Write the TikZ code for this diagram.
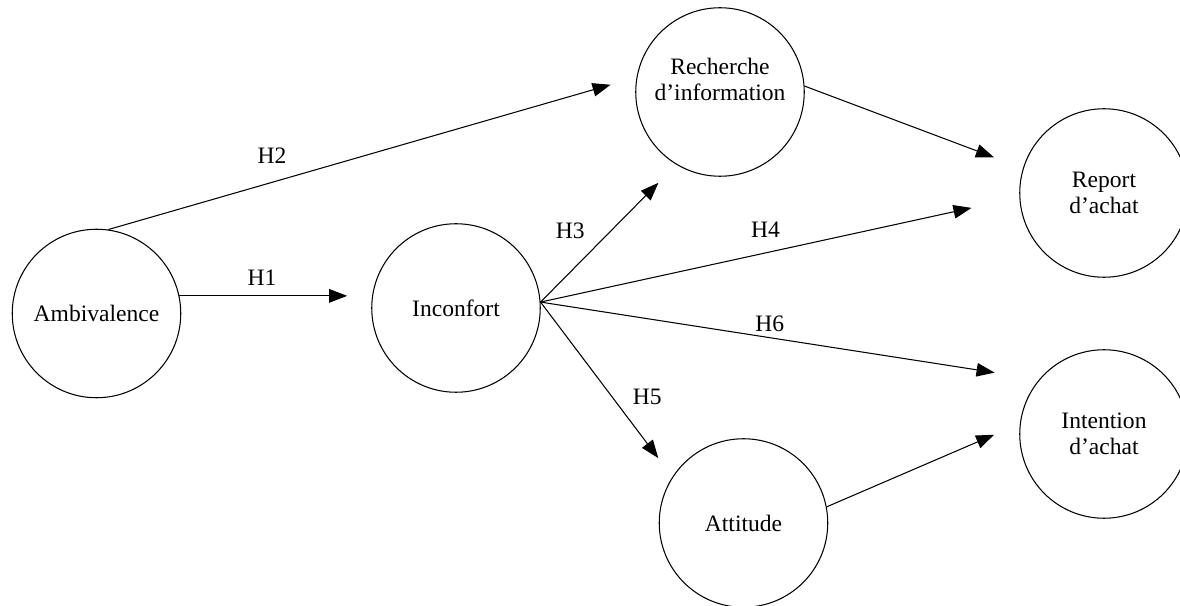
\documentclass[tikz,border=0pt]{standalone}
\usepackage{fontspec}
\setmainfont{Liberation Serif}
\usetikzlibrary{arrows.meta}

\begin{document}
\begin{tikzpicture}[
        var/.style={draw, circle, minimum size=3.37cm, inner sep=0pt, align=center, line width=0.6pt, font=\fontsize{13.4}{14.8}\selectfont},
        arrow/.style={-{Triangle[length=0.36cm, width=0.27cm]}, line width=0.6pt},
        hyp/.style={inner sep=0pt, font=\fontsize{13.4}{14.8}\selectfont}
    ]
        \useasboundingbox (0, 0) rectangle (23.6, 12.12);

        % Nodes
        \node[var] (amb) at (1.93, 5.85) {Ambivalence};
        \node[var] (inc) at (9.12, 5.96) {Inconfort};
        \node[var] (rech) at (14.40, 10.28) {Recherche\\d’information\\\mbox{}};
        \node[var] (att) at (14.87, 1.66) {Attitude};
        \node[var] (rep) at (22.08, 8.26) {Report\\d’achat};
        \node[var] (int) at (22.08, 3.44) {Intention\\d’achat};

        % Arrows
        \draw[arrow, shorten >=0.48cm] (amb.12) -- node[hyp, above=0.19cm, pos=0.43] (h1) {H1} (amb.12 -| inc.west);
        \draw[arrow, shorten >=0.54cm] (amb.82) -- node[hyp, above=0.36cm, pos=0.31] (h2) {H2} (rech.170);

        \draw[arrow, shorten >=0.51cm] (inc.4) -- node[hyp, left=0.52cm, pos=0.52] (h3) {H3} (rech.239);
        \draw[arrow, shorten >=0.98cm] (inc.4) -- node[hyp, above=0.30cm, pos=0.47] (h4) {H4} (rep.183);
        \draw[arrow, shorten >=0.47cm] (inc.4) -- node[hyp, right=0.41cm, pos=0.54] (h5) {H5} (att.147);
        \draw[arrow, shorten >=0.90cm] (inc.4) -- node[hyp, above=0.10cm, pos=0.46] (h6) {H6} (int.140);

        \draw[arrow, shorten >=0.62cm] (rech.4) -- (rep.163);
        \draw[arrow, shorten >=0.56cm] (att.11) -- (int.173);
    \end{tikzpicture}
\end{document}
